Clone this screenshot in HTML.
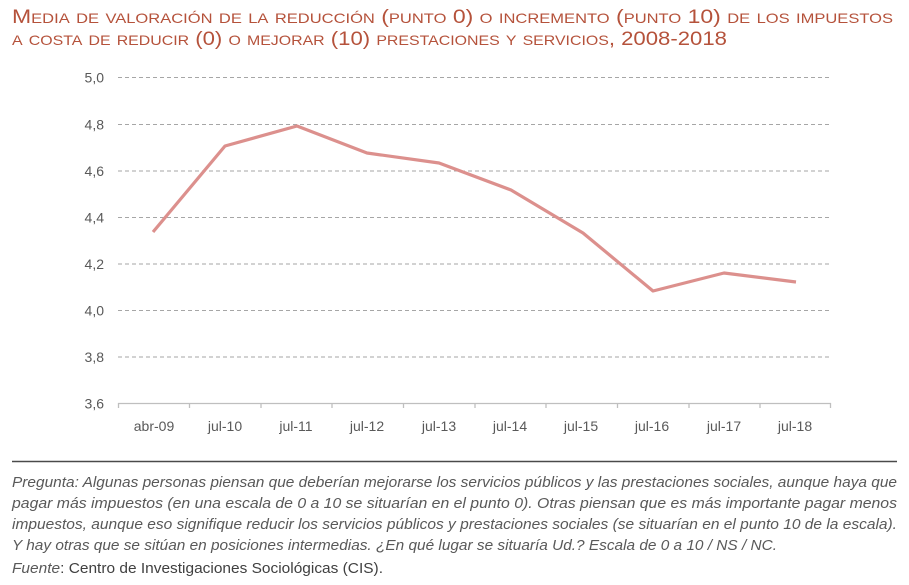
<!DOCTYPE html>
<html><head><meta charset="utf-8"><style>
html,body{margin:0;padding:0;background:#fff;}
svg{display:block;}
.t{font-family:"Liberation Sans",sans-serif;font-variant:small-caps;fill:#b5523b;font-size:19.5px;}
.ax{font-family:"Liberation Sans",sans-serif;font-size:14px;fill:#595959;}
.fn{font-family:"Liberation Sans",sans-serif;font-size:14.5px;fill:#595959;font-style:italic;}
</style></head><body>
<svg width="909" height="585" viewBox="0 0 909 585" xmlns="http://www.w3.org/2000/svg">
<text class="t" x="12" y="23" textLength="881" lengthAdjust="spacingAndGlyphs">Media de valoración de la reducción (punto 0) o incremento (punto 10) de los impuestos</text>
<text class="t" x="12" y="45" textLength="715" lengthAdjust="spacingAndGlyphs">a costa de reducir (0) o mejorar (10) prestaciones y servicios, 2008-2018</text>
<g stroke="#a6a6a6" stroke-width="1" stroke-dasharray="4,3">
<line x1="118" y1="77.5" x2="831" y2="77.5"/>
<line x1="118" y1="124.5" x2="831" y2="124.5"/>
<line x1="118" y1="171" x2="831" y2="171"/>
<line x1="118" y1="217.5" x2="831" y2="217.5"/>
<line x1="118" y1="264" x2="831" y2="264"/>
<line x1="118" y1="310.5" x2="831" y2="310.5"/>
<line x1="118" y1="357" x2="831" y2="357"/>
</g>
<g stroke="#bfbfbf" stroke-width="1.3">
<line x1="118" y1="403.5" x2="831" y2="403.5"/>
<line x1="118.5" y1="403" x2="118.5" y2="408"/>
<line x1="189.5" y1="403" x2="189.5" y2="408"/>
<line x1="261" y1="403" x2="261" y2="408"/>
<line x1="332" y1="403" x2="332" y2="408"/>
<line x1="403.5" y1="403" x2="403.5" y2="408"/>
<line x1="475" y1="403" x2="475" y2="408"/>
<line x1="546" y1="403" x2="546" y2="408"/>
<line x1="617.5" y1="403" x2="617.5" y2="408"/>
<line x1="689" y1="403" x2="689" y2="408"/>
<line x1="760" y1="403" x2="760" y2="408"/>
<line x1="830.5" y1="403" x2="830.5" y2="408"/>
</g>
<g class="ax" text-anchor="end">
<text x="104" y="82.5">5,0</text>
<text x="104" y="129.5">4,8</text>
<text x="104" y="176">4,6</text>
<text x="104" y="222.5">4,4</text>
<text x="104" y="269">4,2</text>
<text x="104" y="315.5">4,0</text>
<text x="104" y="362">3,8</text>
<text x="104" y="408.5">3,6</text>
</g>
<g class="ax" text-anchor="middle">
<text x="154" y="431">abr-09</text>
<text x="225" y="431">jul-10</text>
<text x="296" y="431">jul-11</text>
<text x="367" y="431">jul-12</text>
<text x="439" y="431">jul-13</text>
<text x="510" y="431">jul-14</text>
<text x="581" y="431">jul-15</text>
<text x="652" y="431">jul-16</text>
<text x="724" y="431">jul-17</text>
<text x="795" y="431">jul-18</text>
</g>
<polyline fill="none" stroke="#dc908d" stroke-width="3.2" stroke-linejoin="round" points="153,232 225,146 297,126 367,153 439,163 511,190 583,233 653,291 724,273 796,282"/>
<line x1="12" y1="461.5" x2="897" y2="461.5" stroke="#4a4a4a" stroke-width="1.6"/>
<text class="fn" x="12" y="487" textLength="885" lengthAdjust="spacingAndGlyphs">Pregunta: Algunas personas piensan que deberían mejorarse los servicios públicos y las prestaciones sociales, aunque haya que</text>
<text class="fn" x="12" y="508" textLength="885" lengthAdjust="spacingAndGlyphs">pagar más impuestos (en una escala de 0 a 10 se situarían en el punto 0). Otras piensan que es más importante pagar menos</text>
<text class="fn" x="12" y="529" textLength="885" lengthAdjust="spacingAndGlyphs">impuestos, aunque eso signifique reducir los servicios públicos y prestaciones sociales (se situarían en el punto 10 de la escala).</text>
<text class="fn" x="12" y="550" textLength="765" lengthAdjust="spacingAndGlyphs">Y hay otras que se sitúan en posiciones intermedias. ¿En qué lugar se situaría Ud.? Escala de 0 a 10 / NS / NC.</text>
<text x="12" y="573" textLength="371" lengthAdjust="spacingAndGlyphs" style="font-family:'Liberation Sans',sans-serif;font-size:14.5px;fill:#404040;"><tspan style="font-style:italic;fill:#595959;">Fuente</tspan>: Centro de Investigaciones Sociológicas (CIS).</text>
</svg>
</body></html>
